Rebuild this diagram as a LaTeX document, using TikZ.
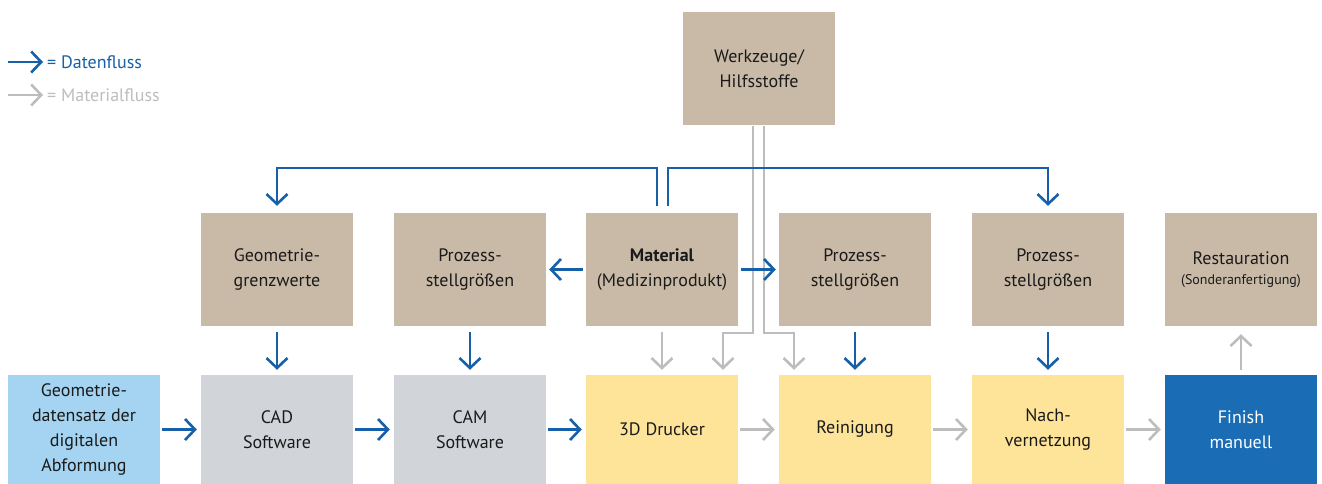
\documentclass[tikz,border=0pt]{standalone}
\usepackage{fontspec}
\setmainfont{PT Sans}
\usetikzlibrary{arrows.meta}
\definecolor{tanbox}{HTML}{C9BAA7}
\definecolor{lbluebox}{HTML}{A4D4F2}
\definecolor{graybox}{HTML}{D1D5D9}
\definecolor{yellowbox}{HTML}{FDE499}
\definecolor{dbluebox}{HTML}{1A6DB5}
\definecolor{dline}{HTML}{1560A8}
\definecolor{mline}{HTML}{BDBDBD}
\definecolor{txt}{HTML}{1A1A1A}
\begin{document}
\begin{tikzpicture}[x=1pt,y=-1pt,
  box/.style={rectangle, minimum width=152pt, minimum height=113pt, inner sep=0pt, align=center,
    font=\fontsize{18}{25}\selectfont, text=txt},
  lowbox/.style={box, minimum height=109pt},
  tip/.style={-{Straight Barb[length=10pt,width=21pt]}},
  dflow/.style={draw=dline, line width=2.6pt, tip},
  mflow/.style={draw=mline, line width=2.6pt, tip},
  legtxt/.style={anchor=west, inner sep=0pt, font=\fontsize{18}{22}\selectfont}
]
\useasboundingbox (0,0) rectangle (1322,484);

% top
\node[box, fill=tanbox] (wz) at (759,68.5) {Werkzeuge/\\Hilfsstoffe};

% middle row
\node[box, fill=tanbox] (geo) at (277,269.5) {Geometrie-\\grenzwerte};
\node[box, fill=tanbox] (p1) at (470,269.5) {Prozess-\\stellgrößen};
\node[box, fill=tanbox] (mat) at (662,269.5) {\textbf{Material}\\(Medizinprodukt)};
\node[box, fill=tanbox] (p2) at (855,269.5) {Prozess-\\stellgrößen};
\node[box, fill=tanbox] (p3) at (1048,269.5) {Prozess-\\stellgrößen};
\node[box, fill=tanbox] (rest) at (1241,269.5) {\raisebox{2pt}{Restauration}\\[-5pt]{\fontsize{14}{18}\selectfont\raisebox{2pt}{(Sonderanfertigung)}}};

% bottom row
\node[lowbox, fill=lbluebox] (gd) at (84,429.5) {Geometrie-\\datensatz der\\digitalen\\Abformung};
\node[lowbox, fill=graybox] (cad) at (277,429.5) {CAD\\Software};
\node[lowbox, fill=graybox] (cam) at (470,429.5) {CAM\\Software};
\node[lowbox, fill=yellowbox] (dd) at (662,429.5) {\raisebox{-2.5pt}{3D Drucker}};
\node[lowbox, fill=yellowbox] (rein) at (855,429.5) {\raisebox{-2.5pt}{Reinigung}};
\node[lowbox, fill=yellowbox] (nach) at (1048,429.5) {Nach-\\vernetzung};
\node[lowbox, fill=dbluebox, text=white] (fin) at (1241,429.5) {Finish\\manuell};

% legend
\coordinate (l1s) at (8,62);
\coordinate (l2s) at (8,95);
\node[legtxt, text=dline] (l1) at (47,62) {= Datenfluss};
\node[legtxt, text=mline] (l2) at (47,95) {= Materialfluss};
\draw[dflow, shorten >=4pt] (l1s) -- (l1.west);
\draw[mflow, shorten >=4pt] (l2s) -- (l2.west);

% material flow (drawn first, underneath)
\draw[mflow, shorten <=6pt, shorten >=5pt] (mat.south) -- (dd.north);
\draw[mflow, shorten <=1pt, shorten >=5pt] ([xshift=-6pt]wz.south) -- (753,333) -| ([xshift=61pt]dd.north);
\draw[mflow, shorten <=1pt, shorten >=5pt] ([xshift=5pt]wz.south) -- (764,333) -| ([xshift=-61pt]rein.north);
\draw[mflow, shorten <=5pt, shorten >=8pt] (fin.north) -- (rest.south);

% data flow from material
\draw[dflow, shorten <=7pt, shorten >=7pt] ([xshift=-5pt]mat.north) -- ++(0,-45) -| (geo.north);
\draw[dflow, shorten <=7pt, shorten >=7pt] ([xshift=6pt]mat.north) -- ++(0,-45) -| (p3.north);
\draw[dflow, shorten <=3pt, shorten >=3pt] (mat.west) -- (p1.east);
\draw[dflow, shorten <=3pt, shorten >=3pt] (mat.east) -- (p2.west);

% data flow down
\draw[dflow, shorten <=6pt, shorten >=5pt] (geo.south) -- (cad.north);
\draw[dflow, shorten <=6pt, shorten >=5pt] (p1.south) -- (cam.north);
\draw[dflow, shorten <=6pt, shorten >=5pt] (p2.south) -- (rein.north);
\draw[dflow, shorten <=6pt, shorten >=5pt] (p3.south) -- (nach.north);

% bottom horizontal
\draw[dflow, shorten <=2pt, shorten >=4pt] (gd.east) -- (cad.west);
\draw[dflow, shorten <=2pt, shorten >=4pt] (cad.east) -- (cam.west);
\draw[dflow, shorten <=2pt, shorten >=4pt] (cam.east) -- (dd.west);
\draw[mflow, shorten <=2pt, shorten >=4pt] (dd.east) -- (rein.west);
\draw[mflow, shorten <=2pt, shorten >=4pt] (rein.east) -- (nach.west);
\draw[mflow, shorten <=2pt, shorten >=4pt] (nach.east) -- (fin.west);
\end{tikzpicture}
\end{document}
